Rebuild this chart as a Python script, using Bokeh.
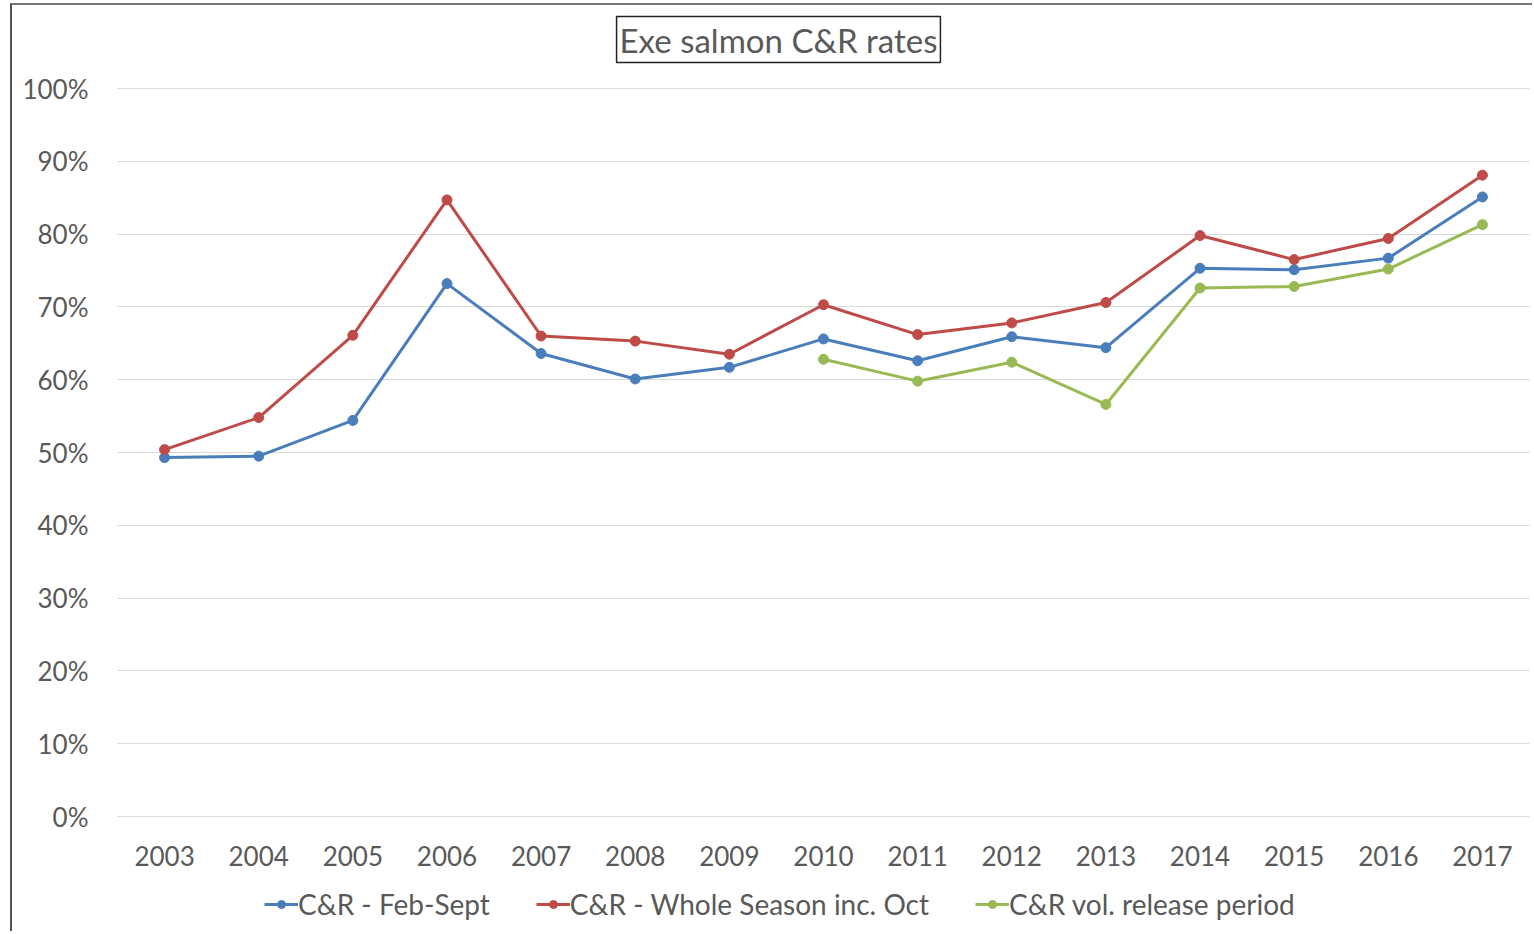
from bokeh.plotting import figure
from bokeh.models import (Legend, LegendItem, FixedTicker, NumeralTickFormatter, Range1d, Label)
from bokeh.core.properties import value
from bokeh.embed import file_html
from bokeh.resources import INLINE

years = [str(y) for y in range(2003, 2018)]
feb_sept = [0.493, 0.495, 0.544, 0.732, 0.636, 0.601, 0.617, 0.656, 0.626, 0.659, 0.644, 0.753, 0.751, 0.767, 0.851]
whole_season = [0.504, 0.548, 0.661, 0.847, 0.660, 0.653, 0.635, 0.703, 0.662, 0.678, 0.706, 0.798, 0.765, 0.794, 0.881]
vol_years = years[7:]
vol_release = [0.628, 0.598, 0.624, 0.566, 0.726, 0.728, 0.752, 0.813]
y_ticks = [i / 10 for i in range(11)]

series_names = ["C&R - Feb-Sept", "C&R - Whole Season inc. Oct", "C&R vol. release period"]
colors = ["#4A7EBB", "#BE4B48", "#98B954"]
title_text = "Exe salmon C&R rates"

FONT = "Lato"
TXT = "#595959"

# pixel geometry of the plotting area (0%..100% spans 728 px)
PX = 728.0
TOP_PAD = 83      # px above the 100% line
BOTTOM_PAD = 115  # px below the 0% line (x labels and legend live here)
FRAME_H = TOP_PAD + int(PX) + BOTTOM_PAD

p = figure(x_range=years, y_range=Range1d(-BOTTOM_PAD / PX, 1.0 + TOP_PAD / PX),
           frame_width=1412, frame_height=FRAME_H,
           output_backend="svg", toolbar_location=None,
           min_border_left=105, min_border_right=3, min_border_top=0, min_border_bottom=0)
p.styles = {"border-left": "2px solid #555555", "border-top": "2px solid #777777",
            "margin-left": "10px", "margin-top": "3px"}

p.outline_line_color = None
p.background_fill_color = "white"
p.border_fill_color = "white"

p.xaxis.visible = False
p.xgrid.grid_line_color = None
p.ygrid.grid_line_color = "#D9D9D9"
p.ygrid.grid_line_width = 1
p.yaxis.ticker = FixedTicker(ticks=y_ticks)
p.yaxis.formatter = NumeralTickFormatter(format="0%")
p.yaxis.axis_line_color = None
p.yaxis.major_tick_line_color = None
p.yaxis.minor_tick_line_color = None
p.yaxis.major_label_text_font = FONT
p.yaxis.major_label_text_font_size = "26px"
p.yaxis.major_label_text_color = TXT
p.yaxis.major_label_standoff = 23

# category labels under the 0% line
p.text(x=years, y=[-39 / PX] * len(years), text=years, text_font=value(FONT),
       text_font_size="26px", text_color=TXT, text_align="center", text_baseline="middle")

# boxed chart title
p.add_layout(Label(x=661, y=1.0 + 49 / PX, x_units="screen", y_units="data",
                   text=title_text, text_font=FONT, text_font_size="33px", text_color=TXT,
                   text_align="center", text_baseline="middle",
                   border_line_color="#222222", border_line_width=1.5,
                   background_fill_color="white", padding=3))

items = []
data = [(years, feb_sept), (years, whole_season), (vol_years, vol_release)]
for (xs, ys), name, c in zip(data, series_names, colors):
    ln = p.line(xs, ys, line_color=c, line_width=3)
    sc = p.scatter(xs, ys, size=10, fill_color=c, line_color=c)
    items.append(LegendItem(label=name, renderers=[ln, sc]))

legend = Legend(items=items, orientation="horizontal", location=(147, 10),
                label_text_font=FONT, label_text_font_size="28px", label_text_color=TXT,
                glyph_width=34, glyph_height=20, label_standoff=0, spacing=46,
                border_line_color=None, background_fill_alpha=0, padding=4, margin=0)
p.add_layout(legend, "center")

open("out.html", "w").write(file_html(p, INLINE))
